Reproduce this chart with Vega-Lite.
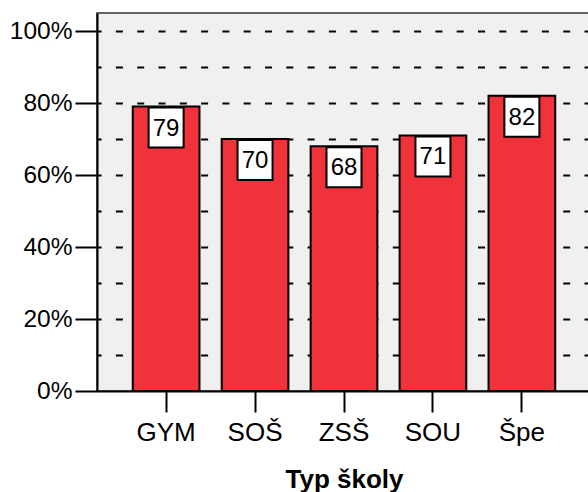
{
  "$schema": "https://vega.github.io/schema/vega-lite/v6.json",
  "autosize": {"type": "none"},
  "padding": {"left": 97, "top": 13, "right": 0, "bottom": 101},
  "width": 494,
  "height": 378,
  "background": "white",
  "config": {
    "view": {"fill": "#f0f0f0", "stroke": "#333333", "strokeWidth": 1.5},
    "font": "Liberation Sans",
    "axis": {"labelFont": "Liberation Sans", "titleFont": "Liberation Sans"}
  },
  "data": {
    "values": [
      {"typ": "GYM", "value": 0.79, "label": "79"},
      {"typ": "SOŠ", "value": 0.70, "label": "70"},
      {"typ": "ZSŠ", "value": 0.68, "label": "68"},
      {"typ": "SOU", "value": 0.71, "label": "71"},
      {"typ": "Špe", "value": 0.82, "label": "82"}
    ]
  },
  "encoding": {
    "x": {
      "field": "typ", "type": "nominal", "sort": null,
      "scale": {"paddingInner": 0.25, "paddingOuter": 0.402},
      "axis": {
        "title": "Typ školy", "titleFontSize": 26, "titleFontWeight": "bold", "titleColor": "black",
        "titlePadding": 21,
        "labelAngle": 0, "labelFontSize": 26, "labelColor": "black", "labelPadding": 7,
        "tickSize": 21, "tickWidth": 2, "tickColor": "black",
        "domainColor": "black", "domainWidth": 2, "grid": false
      }
    }
  },
  "layer": [
    {
      "mark": {"type": "bar", "fill": "#f0333b", "stroke": "black", "strokeWidth": 2},
      "encoding": {
        "y": {
          "field": "value", "type": "quantitative",
          "scale": {"domain": [0, 1.05], "nice": false},
          "axis": {
            "title": null, "values": [0, 0.2, 0.4, 0.6, 0.8, 1.0], "format": ".0%",
            "labelFontSize": 24.5, "labelColor": "black", "labelPadding": 3,
            "tickSize": 22, "tickWidth": 2, "tickColor": "black",
            "domainColor": "black", "domainWidth": 2, "grid": false
          }
        }
      }
    },
    {
      "mark": {"type": "point", "shape": "M-0.875,-1L0.875,-1L0.875,1L-0.875,1Z", "size": 1600, "filled": true, "fill": "white", "stroke": "black", "strokeWidth": 2, "opacity": 1, "yOffset": 21},
      "encoding": {
        "y": {
          "field": "value", "type": "quantitative",
          "axis": {
            "title": null, "values": [0.05, 0.15, 0.25, 0.35, 0.45, 0.55, 0.65, 0.75, 0.85, 0.95, 1.05],
            "labels": false, "tickSize": 12, "tickWidth": 2, "tickColor": "black",
            "domain": false, "grid": false
          }
        }
      }
    },
    {
      "mark": {"type": "text", "fontSize": 24, "color": "black", "baseline": "middle", "align": "center", "yOffset": 22},
      "encoding": {
        "y": {
          "field": "value", "type": "quantitative",
          "axis": {
            "title": null, "values": [0.1, 0.2, 0.3, 0.4, 0.5, 0.6, 0.7, 0.8, 0.9, 1.0],
            "labels": false, "ticks": false, "domain": false,
            "grid": true, "gridColor": "black", "gridWidth": 2, "gridDash": [7, 14.3], "gridOpacity": 1
          }
        },
        "text": {"field": "label", "type": "nominal"}
      }
    }
  ],
  "resolve": {"axis": {"y": "independent"}}
}
